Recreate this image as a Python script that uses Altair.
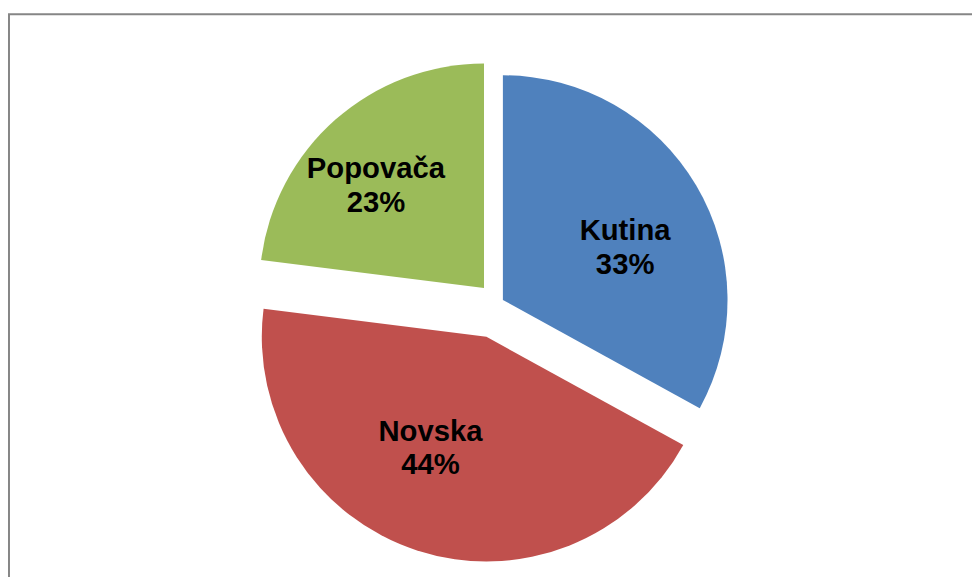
import altair as alt
import pandas as pd

# ---- data ----
CATEGORIES = ["Kutina", "Novska", "Popovača"]
SHARES = [33, 44, 23]

# ---- style ----
COLORS = ["#4F81BD", "#C0504D", "#9BBB59"]
EXPLODE = [6.5, 35.6, 20.3]          # radial explosion of each slice (px)
LABEL_ADJ = [7.5, 8.6, -5.2]         # label angle tweak (deg)
LABEL_DIST = [134, 126, 150]         # label distance from slice apex (px)
W, H = 969, 565
CX, CY, R = 490.4, 291.3, 226.5
FONT_SIZE, LINE_H = 29.5, 34

df = pd.DataFrame({
    "grad": CATEGORIES,
    "udio": SHARES,
    "order": list(range(len(CATEGORIES))),
    "explode": EXPLODE,
    "ladj": LABEL_ADJ,
    "ldist": LABEL_DIST,
})

base = (
    alt.Chart(df)
    .transform_joinaggregate(total="sum(udio)")
    .transform_window(cum="sum(udio)", sort=[alt.SortField("order")], frame=[None, 0])
    .transform_calculate(
        a0="(datum.cum - datum.udio) / datum.total * 2 * PI",
        a1="datum.cum / datum.total * 2 * PI",
    )
    .transform_calculate(mid="(datum.a0 + datum.a1) / 2")
    .transform_calculate(
        vx=f"{CX} + datum.explode * sin(datum.mid)",
        vy=f"{CY} - datum.explode * cos(datum.mid)",
    )
    .transform_calculate(
        lx="datum.vx + datum.ldist * sin(datum.mid + datum.ladj * PI / 180)",
        ly="datum.vy - datum.ldist * cos(datum.mid + datum.ladj * PI / 180)",
        label="datum.grad + '\\n' + round(datum.udio / datum.total * 100) + '%'",
    )
)

arcs = base.mark_arc(radius=R).encode(
    theta=alt.Theta("a0:Q", scale=None),
    theta2="a1:Q",
    x=alt.X("vx:Q", scale=None, axis=None),
    y=alt.Y("vy:Q", scale=None, axis=None),
    color=alt.Color("grad:N", scale=alt.Scale(domain=CATEGORIES, range=COLORS), legend=None),
)

labels = base.mark_text(
    font="Liberation Sans", fontSize=FONT_SIZE, fontWeight="bold", lineBreak="\n",
    lineHeight=LINE_H, align="center", baseline="middle", color="black",
    dy=-LINE_H / 2,
).encode(
    x=alt.X("lx:Q", scale=None, axis=None),
    y=alt.Y("ly:Q", scale=None, axis=None),
    text="label:N",
)

frame_src = alt.Chart(pd.DataFrame({"k": [0]}))
top_rule = frame_src.mark_rule(color="#868686", strokeWidth=2).encode(
    x=alt.value(-3), x2=alt.value(W + 10), y=alt.value(0), y2=alt.value(0)
)
left_rule = frame_src.mark_rule(color="#868686", strokeWidth=2).encode(
    x=alt.value(-2), x2=alt.value(-2), y=alt.value(0), y2=alt.value(H + 10)
)

chart = (
    alt.layer(top_rule, left_rule, arcs, labels)
    .properties(
        width=W, height=H,
        autosize=alt.AutoSizeParams(type="none"),
        padding={"left": 3, "top": 4, "right": 0, "bottom": 0},
    )
    .configure_view(stroke=None)
)

chart.save("out.html", embed_options={"renderer": "svg", "actions": False})
